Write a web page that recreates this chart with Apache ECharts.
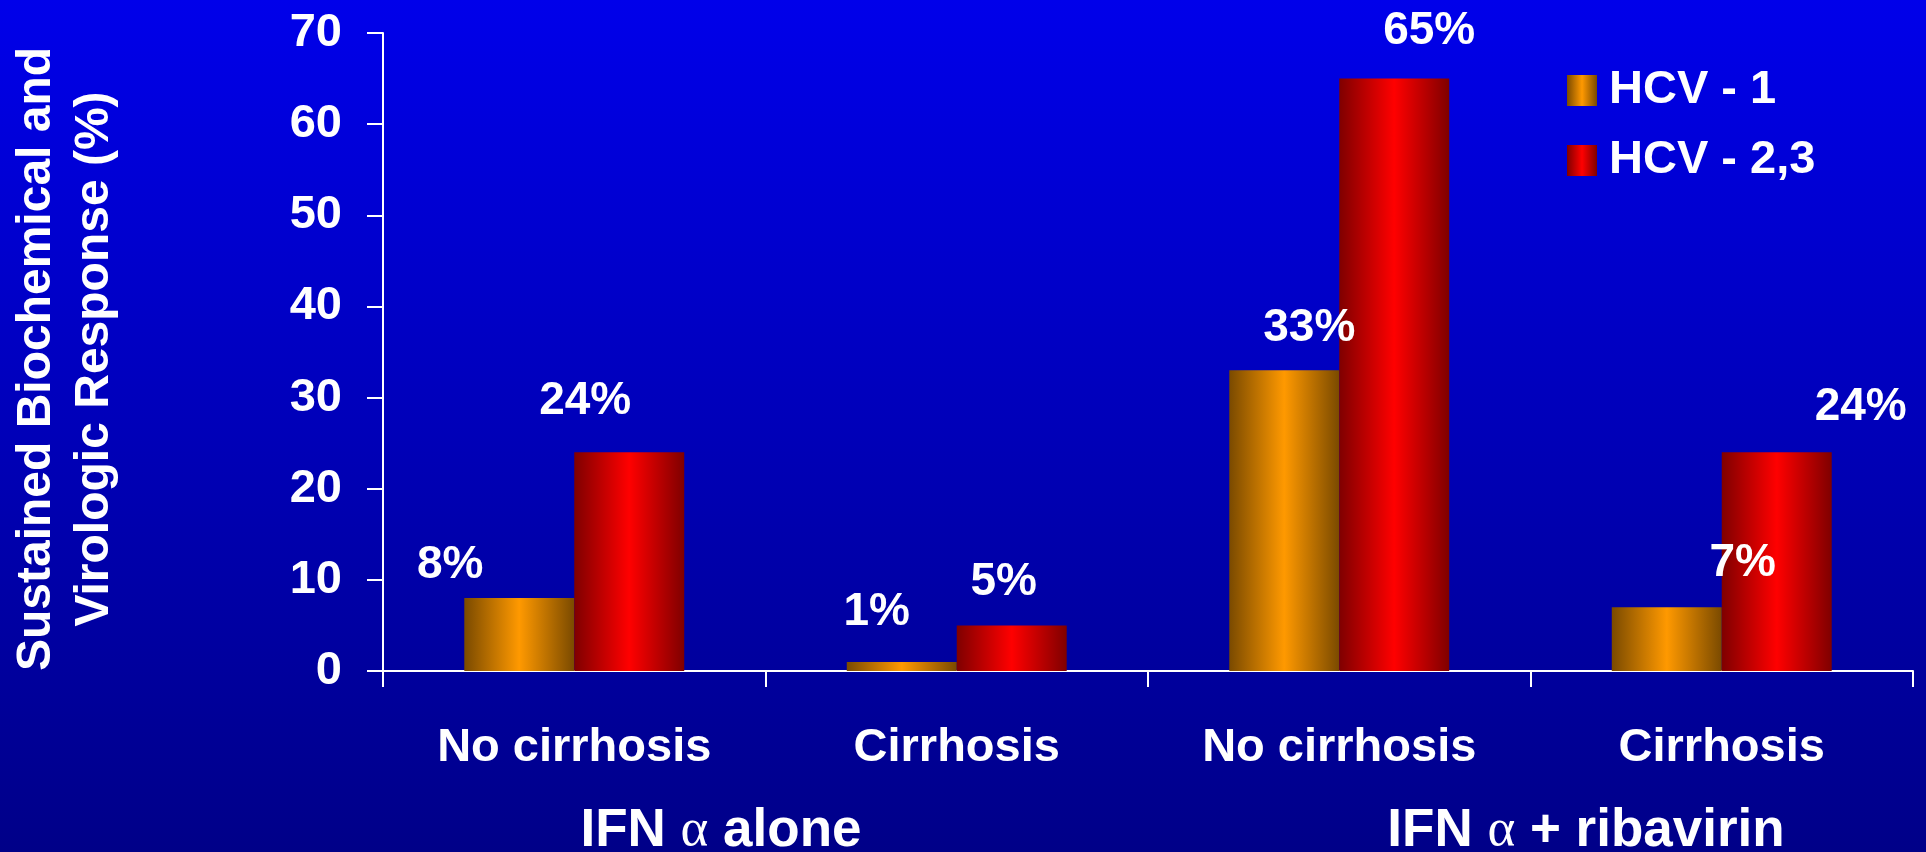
<!DOCTYPE html>
<html>
<head>
<meta charset="utf-8">
<title>Sustained response by genotype</title>
<script src="https://cdn.jsdelivr.net/npm/echarts@6/dist/echarts.min.js"></script>
<style>
  html, body { margin: 0; padding: 0; }
  #chart { width: 1926px; height: 852px; }
</style>
</head>
<body>
<div id="chart"></div>
<script>
// Categories along the x axis (two per treatment group)
const categories = ['No cirrhosis', 'Cirrhosis', 'No cirrhosis', 'Cirrhosis'];
// Treatment groups written under the category labels
const groupLabels = ['IFN {a|α} alone', 'IFN {a|α} + ribavirin'];
// Series names
const seriesNames = ['HCV - 1', 'HCV - 2,3'];
// Sustained biochemical and virologic response (%)
const hcv1 = [8, 1, 33, 7];
const hcv23 = [24, 5, 65, 24];
// Value axis range
const yMin = 0, yMax = 70, yStep = 10;

// Hand-placed value label offsets [dx, dy] for each bar
const hcv1LabelOffsets = [[-69, -10], [-25, -27], [25, -19], [76, -21]];
const hcv23LabelOffsets = [[-44, -28], [-8, -20], [35, -24], [84, -22]];

const FONT = 'Liberation Sans, Arial, sans-serif';

function barGradient(edge, mid) {
  return new echarts.graphic.LinearGradient(0, 0, 1, 0, [
    { offset: 0, color: edge },
    { offset: 0.5, color: mid },
    { offset: 1, color: edge }
  ]);
}

function seriesData(values, offsets) {
  return values.map((v, i) => ({
    value: v,
    label: { offset: offsets[i] }
  }));
}

const valueLabel = {
  show: true,
  position: 'top',
  distance: 0,
  formatter: '{c}%',
  color: '#ffffff',
  fontFamily: FONT,
  fontWeight: 'bold',
  fontSize: 46
};

const chart = echarts.init(document.getElementById('chart'), null, { renderer: 'canvas' });

chart.setOption({
  animation: false,
  backgroundColor: new echarts.graphic.LinearGradient(0, 0, 0, 1, [
    { offset: 0, color: '#0000EA' },
    { offset: 1, color: '#000088' }
  ]),
  grid: { left: 382, right: 13, top: 33, bottom: 181, containLabel: false },
  legend: {
    orient: 'vertical',
    left: 1567,
    top: 67,
    padding: 0,
    itemWidth: 30,
    itemHeight: 31,
    itemGap: 23,
    icon: 'rect',
    textStyle: {
      color: '#ffffff',
      fontFamily: FONT,
      fontWeight: 'bold',
      fontSize: 47,
      lineHeight: 47,
      padding: [0, 0, 0, 7]
    },
    data: seriesNames
  },
  xAxis: {
    type: 'category',
    data: categories,
    boundaryGap: true,
    axisLine: { show: true, lineStyle: { color: '#ffffff', width: 2 } },
    axisTick: { show: true, length: 16, inside: false, lineStyle: { color: '#ffffff', width: 2 } },
    axisLabel: {
      color: '#ffffff',
      fontFamily: FONT,
      fontWeight: 'bold',
      fontSize: 47,
      margin: 54
    },
    splitLine: { show: false }
  },
  yAxis: {
    type: 'value',
    min: yMin,
    max: yMax,
    interval: yStep,
    name: 'Sustained Biochemical and\nVirologic Response (%)',
    nameLocation: 'middle',
    nameRotate: 90,
    nameGap: 259,
    nameTextStyle: {
      color: '#ffffff',
      fontFamily: FONT,
      fontWeight: 'bold',
      fontSize: 48,
      lineHeight: 58,
      align: 'center',
      padding: [0, 14, 0, 0]
    },
    axisLine: { show: true, lineStyle: { color: '#ffffff', width: 2 } },
    axisTick: { show: true, length: 16, inside: false, lineStyle: { color: '#ffffff', width: 2 } },
    axisLabel: {
      color: '#ffffff',
      fontFamily: FONT,
      fontWeight: 'bold',
      fontSize: 47,
      margin: 41
    },
    splitLine: { show: false }
  },
  series: [
    {
      name: seriesNames[0],
      type: 'bar',
      barGap: '0%',
      barCategoryGap: '42.5%',
      itemStyle: { color: barGradient('#7A4A00', '#FF9900') },
      label: valueLabel,
      data: seriesData(hcv1, hcv1LabelOffsets)
    },
    {
      name: seriesNames[1],
      type: 'bar',
      barGap: '0%',
      barCategoryGap: '42.5%',
      itemStyle: { color: barGradient('#7F0000', '#FF0000') },
      label: valueLabel,
      data: seriesData(hcv23, hcv23LabelOffsets)
    }
  ],
  graphic: groupLabels.map((text, i) => ({
    type: 'text',
    x: [721, 1586][i],
    y: 831,
    silent: true,
    style: {
      text: text,
      fill: '#ffffff',
      font: 'bold 53px ' + FONT,
      align: 'center',
      verticalAlign: 'middle',
      rich: {
        a: {
          fontFamily: 'Liberation Serif, Times New Roman, serif',
          fontWeight: 'normal',
          fontSize: 53,
          fill: '#ffffff'
        }
      }
    }
  }))
});
</script>
</body>
</html>
